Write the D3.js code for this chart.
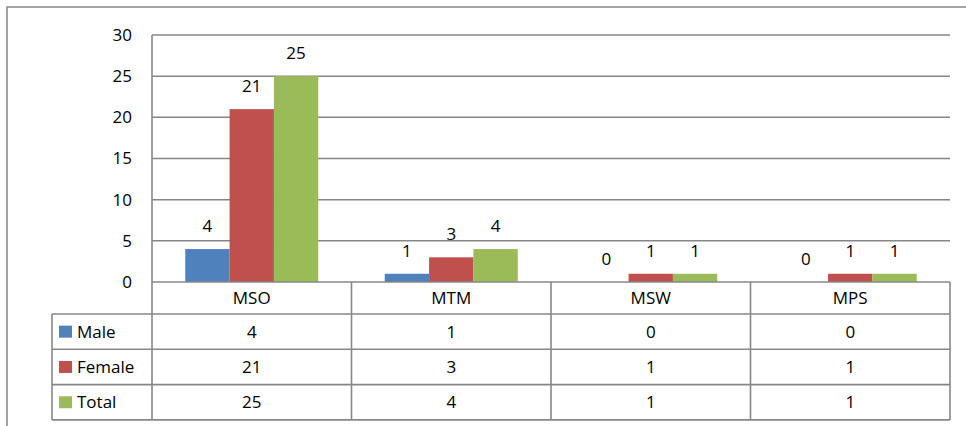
<!DOCTYPE html>
<html>
<head>
<meta charset="utf-8">
<script src="https://cdn.jsdelivr.net/npm/d3@7"></script>
<style>
  html, body { margin: 0; padding: 0; background: #fff; }
  svg { display: block; }
  text { font-family: "Open Sans", Lato, sans-serif; fill: #000; }
</style>
</head>
<body>
<svg id="chart" width="966" height="426"></svg>
<script>
const categories = ["MSO", "MTM", "MSW", "MPS"];
const seriesNames = ["Male", "Female", "Total"];
const maleValues = [4, 1, 0, 0];
const femaleValues = [21, 3, 1, 1];
const totalValues = [25, 4, 1, 1];
const seriesColors = ["#4F81BD", "#C0504D", "#9BBB59"];
const yTicks = [0, 5, 10, 15, 20, 25, 30];

const seriesValues = [maleValues, femaleValues, totalValues];

const svg = d3.select("#chart");
const W = 966, H = 426;
const plot = { left: 152, right: 950, top: 35, bottom: 282 };
const table = { left: 52, rowH: 35.3, headerH: 32 };
const lineColor = "#878787";
const fontSize = 17;
const fontFamily = "'Open Sans', Lato, sans-serif";

// outer frame (left + top visible)
svg.append("path")
  .attr("d", `M7,${H} L7,7 L${W},7`)
  .attr("fill", "none").attr("stroke", lineColor).attr("stroke-width", 1.5);

const x0 = d3.scaleBand().domain(categories).range([plot.left, plot.right]).padding(0);
const cw = x0.bandwidth();
const x1 = d3.scaleBand().domain(seriesNames).range([cw / 6, cw - cw / 6]).padding(0);
const y = d3.scaleLinear().domain([0, 30]).range([plot.bottom, plot.top]);

// gridlines
svg.append("g").selectAll("line").data(yTicks.filter(t => t > 0)).join("line")
  .attr("x1", plot.left).attr("x2", plot.right)
  .attr("y1", d => y(d)).attr("y2", d => y(d))
  .attr("stroke", "#868686").attr("stroke-width", 1.5);

// y axis labels
const yAxis = d3.axisLeft(y).tickValues(yTicks).tickSize(0).tickPadding(20);
const yg = svg.append("g").attr("transform", `translate(${plot.left},0)`).call(yAxis);
yg.select(".domain").remove();
yg.selectAll("text").attr("font-size", fontSize).attr("font-family", fontFamily).attr("fill", "#000");

// bars
const groups = svg.append("g").selectAll("g").data(categories).join("g")
  .attr("transform", d => `translate(${x0(d)},0)`);
groups.selectAll("rect").data((c, i) => seriesNames.map((s, j) => ({ s, j, v: seriesValues[j][i] })))
  .join("rect")
  .attr("x", d => x1(d.s)).attr("width", x1.bandwidth())
  .attr("y", d => y(d.v)).attr("height", d => y(0) - y(d.v))
  .attr("fill", d => seriesColors[d.j]);
groups.selectAll("text").data((c, i) => seriesNames.map((s, j) => ({ s, j, v: seriesValues[j][i] })))
  .join("text")
  .attr("x", d => x1(d.s) + x1.bandwidth() / 2)
  .attr("y", d => y(d.v) - 17)
  .attr("text-anchor", "middle").attr("font-size", fontSize)
  .text(d => d.v);

// table
const tg = svg.append("g");
const rowTop = plot.bottom;
const headerBottom = rowTop + table.headerH;
const rowYs = seriesNames.map((s, i) => headerBottom + i * table.rowH);
const tableBottom = headerBottom + seriesNames.length * table.rowH;

svg.append("line").attr("x1", plot.left).attr("x2", plot.left)
  .attr("y1", plot.top).attr("y2", tableBottom)
  .attr("stroke", lineColor).attr("stroke-width", 1.6);
categories.forEach(c => {
  tg.append("line").attr("x1", x0(c) + cw).attr("x2", x0(c) + cw)
    .attr("y1", rowTop).attr("y2", tableBottom)
    .attr("stroke", lineColor).attr("stroke-width", 1.6);
});
tg.append("line").attr("x1", table.left).attr("x2", table.left)
  .attr("y1", headerBottom).attr("y2", tableBottom)
  .attr("stroke", lineColor).attr("stroke-width", 1.6);
tg.append("line").attr("x1", plot.left).attr("x2", plot.right)
  .attr("y1", rowTop).attr("y2", rowTop)
  .attr("stroke", lineColor).attr("stroke-width", 1.7);
[...rowYs, tableBottom].forEach(yy => {
  tg.append("line").attr("x1", table.left).attr("x2", plot.right)
    .attr("y1", yy).attr("y2", yy)
    .attr("stroke", lineColor).attr("stroke-width", 1.6);
});
categories.forEach(c => {
  tg.append("text").attr("x", x0(c) + cw / 2).attr("y", (rowTop + headerBottom) / 2)
    .attr("dy", "0.35em").attr("text-anchor", "middle").attr("font-size", fontSize).text(c);
});
seriesNames.forEach((s, j) => {
  const cy = rowYs[j] + table.rowH / 2;
  tg.append("rect").attr("x", 59).attr("y", cy - 6).attr("width", 13).attr("height", 12)
    .attr("fill", seriesColors[j]);
  tg.append("text").attr("x", 77).attr("y", cy).attr("dy", "0.35em")
    .attr("font-size", fontSize).text(s);
  categories.forEach((c, i) => {
    tg.append("text").attr("x", x0(c) + cw / 2).attr("y", cy).attr("dy", "0.35em")
      .attr("text-anchor", "middle").attr("font-size", fontSize).text(seriesValues[j][i]);
  });
});
</script>
</body>
</html>
